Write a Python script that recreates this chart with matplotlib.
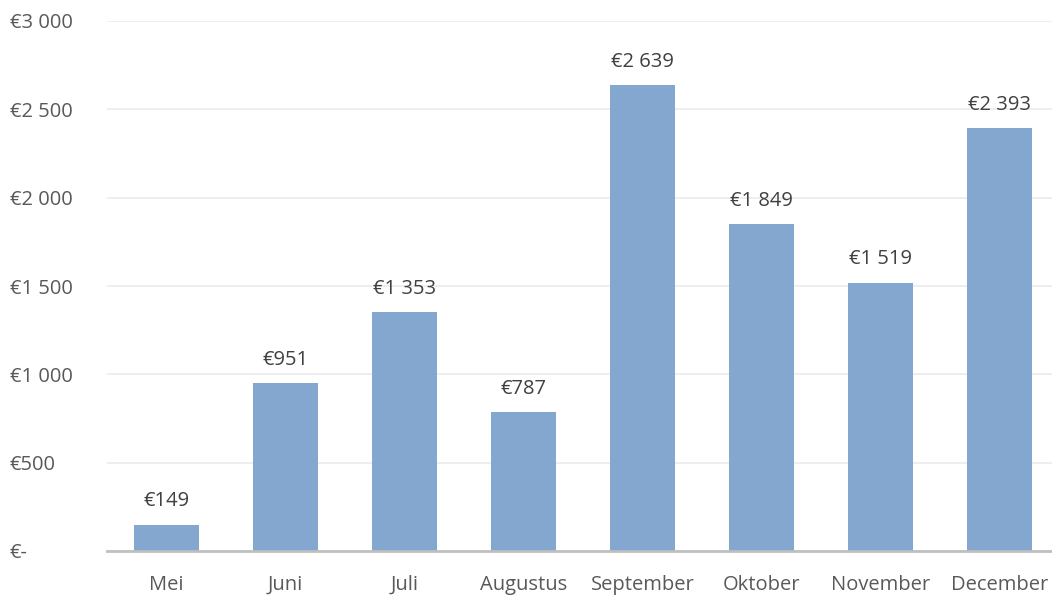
import matplotlib
matplotlib.use('Agg')
from matplotlib import pyplot as plt
import numpy as np

months = ['Mei', 'Juni', 'Juli', 'Augustus', 'September', 'Oktober', 'November', 'December']
amounts = [149, 951, 1353, 787, 2639, 1849, 1519, 2393]
yticks = [0, 500, 1000, 1500, 2000, 2500, 3000]

def euro(v):
    if v == 0:
        return '€-'
    return '€' + format(v, ',').replace(',', ' ')

plt.rcParams['font.family'] = ['Open Sans', 'DejaVu Sans']

fig = plt.figure(figsize=(10.52, 5.96), dpi=100)
ax = fig.add_axes([107/1052, 45/596, 952/1052, 530/596])

x = np.arange(len(months))
ax.bar(x, amounts, width=0.55, color='#84A7D0', zorder=2)
for xi, v in zip(x, amounts):
    ax.text(xi, v + 75, euro(v), ha='center', va='bottom', fontsize=14.5, color='#404040')

ax.set_xlim(-0.5, len(months) - 0.5)
ax.set_ylim(0, 3000)
ax.set_yticks(yticks)
ax.set_yticklabels([euro(v) for v in yticks])
ax.set_xticks(x)
ax.set_xticklabels(months)
ax.tick_params(axis='both', length=0, labelsize=14.5, labelcolor='#595959')
ax.tick_params(axis='x', pad=17)
for lbl in ax.get_yticklabels():
    lbl.set_horizontalalignment('left')
ax.tick_params(axis='y', pad=70)

ax.grid(axis='y', color='#EBEBEB', lw=1.2, zorder=0)
for s in ['top', 'right', 'left']:
    ax.spines[s].set_visible(False)
ax.spines['bottom'].set_color('#BFBFBF')
ax.spines['bottom'].set_linewidth(2)
ax.spines['bottom'].set_zorder(3)

fig.savefig('out.png', dpi=100)
